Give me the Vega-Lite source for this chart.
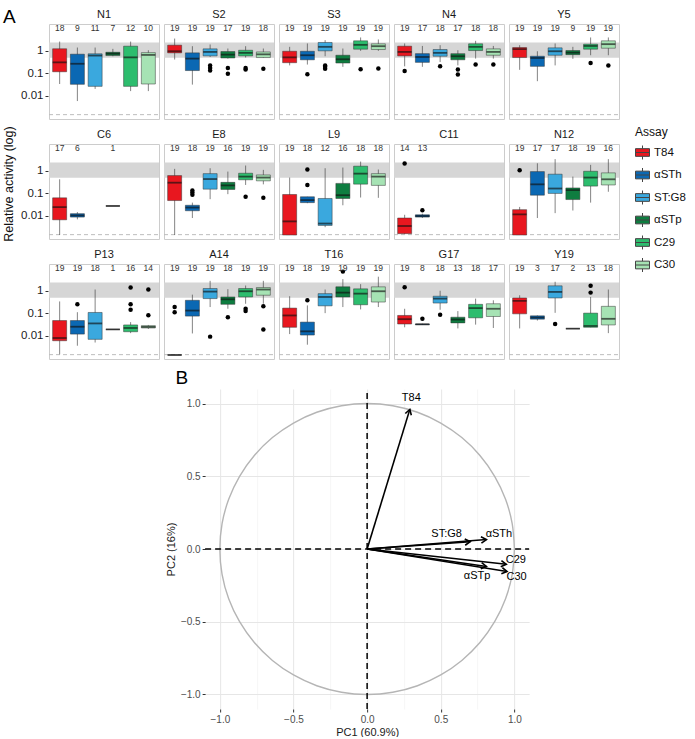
{
"$schema": "https://vega.github.io/schema/vega-lite/v6.json",
"padding": {"left": 3, "top": 7, "right": 0, "bottom": 0},
"config": {"font": "Liberation Sans", "view": {"stroke": "#cccccc"}},
"title": {"text": "A", "anchor": "start", "fontSize": 19, "fontWeight": "normal", "color": "#000", "offset": -18},
"datasets": {
"box": [
{"p":"N1","a":"T84","n":18,"lo":0.033,"q1":0.115,"md":0.30,"q3":1.2,"hi":2.5},
{"p":"N1","a":"αSTh","n":9,"lo":0.0058,"q1":0.032,"md":0.26,"q3":0.69,"hi":1.36},
{"p":"N1","a":"ST:G8","n":11,"lo":0.02,"q1":0.026,"md":0.6,"q3":0.72,"hi":1.36},
{"p":"N1","a":"αSTp","n":7,"lo":0.56,"q1":0.6,"md":0.73,"q3":0.84,"hi":1.19},
{"p":"N1","a":"C29","n":12,"lo":0.016,"q1":0.026,"md":0.5,"q3":1.56,"hi":2.5},
{"p":"N1","a":"C30","n":10,"lo":0.016,"q1":0.033,"md":0.64,"q3":0.81,"hi":1.03},
{"p":"S2","a":"T84","n":19,"lo":0.40,"q1":0.79,"md":0.93,"q3":1.73,"hi":3.4},
{"p":"S2","a":"αSTh","n":19,"lo":0.031,"q1":0.13,"md":0.44,"q3":0.79,"hi":1.56},
{"p":"S2","a":"ST:G8","n":19,"lo":0.52,"q1":0.58,"md":0.87,"q3":1.19,"hi":1.86},
{"p":"S2","a":"αSTp","n":17,"lo":0.44,"q1":0.47,"md":0.66,"q3":0.9,"hi":1.23},
{"p":"S2","a":"C29","n":19,"lo":0.49,"q1":0.58,"md":0.79,"q3":1.03,"hi":1.56},
{"p":"S2","a":"C30","n":18,"lo":0.48,"q1":0.49,"md":0.68,"q3":0.87,"hi":1.23},
{"p":"S3","a":"T84","n":19,"lo":0.22,"q1":0.29,"md":0.50,"q3":0.93,"hi":1.46},
{"p":"S3","a":"αSTh","n":19,"lo":0.24,"q1":0.39,"md":0.62,"q3":0.93,"hi":2.06},
{"p":"S3","a":"ST:G8","n":19,"lo":0.56,"q1":0.97,"md":1.46,"q3":2.28,"hi":2.9},
{"p":"S3","a":"αSTp","n":19,"lo":0.19,"q1":0.28,"md":0.41,"q3":0.62,"hi":1.23},
{"p":"S3","a":"C29","n":19,"lo":0.97,"q1":1.15,"md":1.79,"q3":2.7,"hi":3.8},
{"p":"S3","a":"C30","n":19,"lo":0.97,"q1":1.11,"md":1.56,"q3":1.99,"hi":3.1},
{"p":"N4","a":"T84","n":19,"lo":0.2,"q1":0.58,"md":0.87,"q3":1.56,"hi":2.06},
{"p":"N4","a":"αSTh","n":17,"lo":0.19,"q1":0.30,"md":0.52,"q3":0.73,"hi":1.6},
{"p":"N4","a":"ST:G8","n":18,"lo":0.31,"q1":0.56,"md":0.79,"q3":1.11,"hi":1.73},
{"p":"N4","a":"αSTp","n":17,"lo":0.22,"q1":0.39,"md":0.56,"q3":0.73,"hi":1.03},
{"p":"N4","a":"C29","n":18,"lo":0.44,"q1":1.0,"md":1.46,"q3":1.99,"hi":2.7},
{"p":"N4","a":"C30","n":18,"lo":0.44,"q1":0.62,"md":0.87,"q3":1.19,"hi":1.6},
{"p":"Y5","a":"T84","n":19,"lo":0.14,"q1":0.49,"md":1.15,"q3":1.36,"hi":1.73},
{"p":"Y5","a":"αSTh","n":19,"lo":0.044,"q1":0.2,"md":0.47,"q3":0.56,"hi":0.93},
{"p":"Y5","a":"ST:G8","n":19,"lo":0.22,"q1":0.62,"md":0.93,"q3":1.32,"hi":2.06},
{"p":"Y5","a":"αSTp","n":9,"lo":0.43,"q1":0.66,"md":0.81,"q3":1.0,"hi":1.46},
{"p":"Y5","a":"C29","n":19,"lo":0.62,"q1":1.15,"md":1.6,"q3":1.92,"hi":3.8},
{"p":"Y5","a":"C30","n":19,"lo":0.62,"q1":1.27,"md":1.92,"q3":2.7,"hi":3.8},
{"p":"C6","a":"T84","n":17,"lo":0.0014,"q1":0.0066,"md":0.024,"q3":0.062,"hi":0.41},
{"p":"C6","a":"αSTh","n":6,"lo":0.0069,"q1":0.0087,"md":0.0103,"q3":0.0123,"hi":0.0145},
{"p":"C6","a":"αSTp","n":1,"lo":0.027,"q1":0.027,"md":0.027,"q3":0.027,"hi":0.027},
{"p":"E8","a":"T84","n":19,"lo":0.0014,"q1":0.047,"md":0.29,"q3":0.60,"hi":1.19},
{"p":"E8","a":"αSTh","n":18,"lo":0.0079,"q1":0.0166,"md":0.023,"q3":0.029,"hi":0.038},
{"p":"E8","a":"ST:G8","n":19,"lo":0.054,"q1":0.15,"md":0.42,"q3":0.73,"hi":1.27},
{"p":"E8","a":"αSTp","n":16,"lo":0.09,"q1":0.146,"md":0.22,"q3":0.30,"hi":0.9},
{"p":"E8","a":"C29","n":19,"lo":0.23,"q1":0.39,"md":0.54,"q3":0.76,"hi":1.67},
{"p":"E8","a":"C30","n":19,"lo":0.245,"q1":0.35,"md":0.49,"q3":0.64,"hi":1.07},
{"p":"L9","a":"T84","n":19,"lo":0.0014,"q1":0.0014,"md":0.0056,"q3":0.087,"hi":0.49},
{"p":"L9","a":"αSTh","n":18,"lo":0.036,"q1":0.038,"md":0.049,"q3":0.069,"hi":0.069},
{"p":"L9","a":"ST:G8","n":12,"lo":0.0031,"q1":0.0037,"md":0.0045,"q3":0.058,"hi":1.27},
{"p":"L9","a":"αSTp","n":16,"lo":0.029,"q1":0.058,"md":0.081,"q3":0.27,"hi":1.36},
{"p":"L9","a":"C29","n":18,"lo":0.064,"q1":0.25,"md":0.73,"q3":1.56,"hi":2.5},
{"p":"L9","a":"C30","n":18,"lo":0.062,"q1":0.22,"md":0.54,"q3":0.73,"hi":1.11},
{"p":"C11","a":"T84","n":14,"lo":0.00155,"q1":0.0016,"md":0.0035,"q3":0.0079,"hi":0.011},
{"p":"C11","a":"αSTh","n":13,"lo":0.0079,"q1":0.0087,"md":0.0097,"q3":0.011,"hi":0.0123},
{"p":"N12","a":"T84","n":19,"lo":0.0014,"q1":0.0014,"md":0.0115,"q3":0.0186,"hi":0.0245},
{"p":"N12","a":"αSTh","n":17,"lo":0.0079,"q1":0.081,"md":0.245,"q3":0.9,"hi":2.1},
{"p":"N12","a":"ST:G8","n":17,"lo":0.013,"q1":0.097,"md":0.16,"q3":0.69,"hi":3.2},
{"p":"N12","a":"αSTp","n":18,"lo":0.017,"q1":0.052,"md":0.136,"q3":0.17,"hi":0.54},
{"p":"N12","a":"C29","n":19,"lo":0.038,"q1":0.205,"md":0.49,"q3":0.93,"hi":1.79},
{"p":"N12","a":"C30","n":16,"lo":0.115,"q1":0.23,"md":0.41,"q3":0.79,"hi":3.2},
{"p":"P13","a":"T84","n":19,"lo":0.0015,"q1":0.006,"md":0.0079,"q3":0.047,"hi":0.33},
{"p":"P13","a":"αSTh","n":19,"lo":0.0036,"q1":0.0118,"md":0.025,"q3":0.047,"hi":0.11},
{"p":"P13","a":"ST:G8","n":18,"lo":0.005,"q1":0.0069,"md":0.035,"q3":0.107,"hi":1.11},
{"p":"P13","a":"αSTp","n":1,"lo":0.019,"q1":0.019,"md":0.019,"q3":0.019,"hi":0.019},
{"p":"P13","a":"C29","n":16,"lo":0.013,"q1":0.015,"md":0.022,"q3":0.030,"hi":0.04},
{"p":"P13","a":"C30","n":14,"lo":0.02,"q1":0.022,"md":0.0245,"q3":0.028,"hi":0.03},
{"p":"A14","a":"T84","n":19,"lo":0.0014,"q1":0.0014,"md":0.0014,"q3":0.0014,"hi":0.0014},
{"p":"A14","a":"αSTh","n":19,"lo":0.0126,"q1":0.074,"md":0.13,"q3":0.37,"hi":0.66},
{"p":"A14","a":"ST:G8","n":19,"lo":0.186,"q1":0.44,"md":0.9,"q3":1.23,"hi":2.7},
{"p":"A14","a":"αSTp","n":18,"lo":0.156,"q1":0.245,"md":0.41,"q3":0.52,"hi":1.15},
{"p":"A14","a":"C29","n":19,"lo":0.26,"q1":0.52,"md":0.93,"q3":1.23,"hi":1.67},
{"p":"A14","a":"C30","n":19,"lo":0.26,"q1":0.62,"md":1.11,"q3":1.36,"hi":2.7},
{"p":"T16","a":"T84","n":19,"lo":0.0118,"q1":0.0236,"md":0.079,"q3":0.167,"hi":0.56},
{"p":"T16","a":"αSTh","n":18,"lo":0.004,"q1":0.0107,"md":0.0156,"q3":0.04,"hi":0.22},
{"p":"T16","a":"ST:G8","n":19,"lo":0.1,"q1":0.21,"md":0.52,"q3":0.73,"hi":1.11},
{"p":"T16","a":"αSTp","n":19,"lo":0.186,"q1":0.52,"md":0.81,"q3":1.46,"hi":3.2},
{"p":"T16","a":"C29","n":19,"lo":0.146,"q1":0.235,"md":0.73,"q3":1.19,"hi":1.92},
{"p":"T16","a":"C30","n":19,"lo":0.186,"q1":0.31,"md":0.93,"q3":1.46,"hi":4.1},
{"p":"G17","a":"T84","n":19,"lo":0.0236,"q1":0.033,"md":0.054,"q3":0.079,"hi":0.156},
{"p":"G17","a":"αSTh","n":8,"lo":0.03,"q1":0.031,"md":0.032,"q3":0.033,"hi":0.034},
{"p":"G17","a":"ST:G8","n":18,"lo":0.141,"q1":0.28,"md":0.44,"q3":0.56,"hi":0.98},
{"p":"G17","a":"αSTp","n":13,"lo":0.021,"q1":0.037,"md":0.052,"q3":0.066,"hi":0.123},
{"p":"G17","a":"C29","n":18,"lo":0.031,"q1":0.062,"md":0.167,"q3":0.245,"hi":0.44},
{"p":"G17","a":"C30","n":17,"lo":0.022,"q1":0.071,"md":0.156,"q3":0.26,"hi":0.37},
{"p":"Y19","a":"T84","n":19,"lo":0.021,"q1":0.093,"md":0.35,"q3":0.47,"hi":0.62},
{"p":"Y19","a":"αSTh","n":3,"lo":0.047,"q1":0.054,"md":0.064,"q3":0.076,"hi":0.079},
{"p":"Y19","a":"ST:G8","n":17,"lo":0.103,"q1":0.47,"md":0.87,"q3":1.62,"hi":2.45},
{"p":"Y19","a":"αSTp","n":2,"lo":0.0205,"q1":0.0205,"md":0.0205,"q3":0.0205,"hi":0.0205},
{"p":"Y19","a":"C29","n":13,"lo":0.0236,"q1":0.0236,"md":0.027,"q3":0.1,"hi":0.52},
{"p":"Y19","a":"C30","n":18,"lo":0.013,"q1":0.030,"md":0.056,"q3":0.2,"hi":1.11},
{"p":"S2","a":"ST:G8","o":0.22},{"p":"S2","a":"ST:G8","o":0.17},{"p":"S2","a":"ST:G8","o":0.13},
{"p":"S2","a":"αSTp","o":0.17},{"p":"S2","a":"αSTp","o":0.093},
{"p":"S2","a":"C29","o":0.17},{"p":"S2","a":"C29","o":0.146},
{"p":"S2","a":"C30","o":0.156},
{"p":"S3","a":"αSTh","o":0.09},
{"p":"S3","a":"ST:G8","o":0.22},{"p":"S3","a":"ST:G8","o":0.19},{"p":"S3","a":"ST:G8","o":0.156},
{"p":"S3","a":"C29","o":0.15},{"p":"S3","a":"C30","o":0.16},
{"p":"N4","a":"T84","o":0.123},{"p":"N4","a":"ST:G8","o":0.2},
{"p":"N4","a":"αSTp","o":0.146},{"p":"N4","a":"αSTp","o":0.087},
{"p":"N4","a":"C29","o":0.24},{"p":"N4","a":"C30","o":0.24},
{"p":"Y5","a":"C29","o":0.28},{"p":"Y5","a":"C30","o":0.22},
{"p":"E8","a":"αSTh","o":0.13},{"p":"E8","a":"αSTh","o":0.107},{"p":"E8","a":"αSTh","o":0.085},
{"p":"E8","a":"C29","o":0.069},{"p":"E8","a":"C30","o":0.062},
{"p":"L9","a":"αSTh","o":1.11},{"p":"L9","a":"αSTh","o":0.23},
{"p":"C11","a":"T84","o":2.06},{"p":"C11","a":"αSTh","o":0.0174},
{"p":"N12","a":"T84","o":1.03},
{"p":"P13","a":"αSTh","o":0.245},
{"p":"P13","a":"C29","o":1.36},{"p":"P13","a":"C29","o":0.245},{"p":"P13","a":"C29","o":0.141},
{"p":"P13","a":"C30","o":1.11},{"p":"P13","a":"C30","o":0.081},
{"p":"A14","a":"T84","o":0.186},{"p":"A14","a":"T84","o":0.11},
{"p":"A14","a":"ST:G8","o":0.0091},{"p":"A14","a":"αSTp","o":0.066},
{"p":"A14","a":"C29","o":0.156},{"p":"A14","a":"C29","o":0.123},
{"p":"A14","a":"C30","o":0.2},{"p":"A14","a":"C30","o":0.019},
{"p":"T16","a":"αSTh","o":0.37},{"p":"T16","a":"αSTp","o":6.9},
{"p":"G17","a":"T84","o":1.41},{"p":"G17","a":"αSTh","o":0.056},{"p":"G17","a":"ST:G8","o":0.085},
{"p":"Y19","a":"ST:G8","o":0.033},{"p":"Y19","a":"C29","o":1.62},{"p":"Y19","a":"C29","o":0.81}
],
"arrows": [
{"v":"T84","px":0.29,"py":0.96,"lx":0.30,"ly":1.035},
{"v":"ST:G8","px":0.70,"py":0.05,"lx":0.54,"ly":0.105},
{"v":"αSTh","px":0.81,"py":0.065,"lx":0.895,"ly":0.105},
{"v":"C29","px":0.945,"py":-0.105,"lx":1.01,"ly":-0.075},
{"v":"C30","px":0.95,"py":-0.155,"lx":1.015,"ly":-0.195},
{"v":"αSTp","px":0.81,"py":-0.12,"lx":0.747,"ly":-0.186}
],
"circle": [
{"t":0,"cx":1,"cy":0},{"t":10,"cx":0.985,"cy":0.174},{"t":20,"cx":0.94,"cy":0.342},{"t":30,"cx":0.866,"cy":0.5},
{"t":40,"cx":0.766,"cy":0.643},{"t":50,"cx":0.643,"cy":0.766},{"t":60,"cx":0.5,"cy":0.866},{"t":70,"cx":0.342,"cy":0.94},
{"t":80,"cx":0.174,"cy":0.985},{"t":90,"cx":0,"cy":1},{"t":100,"cx":-0.174,"cy":0.985},{"t":110,"cx":-0.342,"cy":0.94},
{"t":120,"cx":-0.5,"cy":0.866},{"t":130,"cx":-0.643,"cy":0.766},{"t":140,"cx":-0.766,"cy":0.643},{"t":150,"cx":-0.866,"cy":0.5},
{"t":160,"cx":-0.94,"cy":0.342},{"t":170,"cx":-0.985,"cy":0.174},{"t":180,"cx":-1,"cy":0},{"t":190,"cx":-0.985,"cy":-0.174},
{"t":200,"cx":-0.94,"cy":-0.342},{"t":210,"cx":-0.866,"cy":-0.5},{"t":220,"cx":-0.766,"cy":-0.643},{"t":230,"cx":-0.643,"cy":-0.766},
{"t":240,"cx":-0.5,"cy":-0.866},{"t":250,"cx":-0.342,"cy":-0.94},{"t":260,"cx":-0.174,"cy":-0.985},{"t":270,"cx":0,"cy":-1},
{"t":280,"cx":0.174,"cy":-0.985},{"t":290,"cx":0.342,"cy":-0.94},{"t":300,"cx":0.5,"cy":-0.866},{"t":310,"cx":0.643,"cy":-0.766},
{"t":320,"cx":0.766,"cy":-0.643},{"t":330,"cx":0.866,"cy":-0.5},{"t":340,"cx":0.94,"cy":-0.342},{"t":350,"cx":0.985,"cy":-0.174},
{"t":360,"cx":1,"cy":0}
]
},
"center": true,
"spacing": 9,
"resolve": {"scale": {"color": "independent"}, "legend": {"color": "independent"}},
"vconcat": [
{
"data": {"name": "box"},
"title": {"text": "Relative activity (log)", "orient": "left", "anchor": "middle", "fontSize": 12.5, "fontWeight": "normal", "color": "#111", "offset": 5},
"columns": 5,
"spacing": {"row": 8, "column": 3},
"facet": {"field": "p", "type": "nominal", "title": null,
  "sort": ["N1","S2","S3","N4","Y5","C6","E8","L9","C11","N12","P13","A14","T16","G17","Y19"],
  "header": {"labelFontSize": 11, "labelColor": "#1a1a1a", "labelPadding": 4}},
"spec": {
"width": 110, "height": 95,
"resolve": {"scale": {"x": "independent"}},
"layer": [
{"transform": [{"filter": "datum.a == 'T84' && isValid(datum.n)"}],
 "mark": {"type": "rect", "color": "#d6d6d6"},
 "encoding": {
   "x": {"datum": 0, "type": "quantitative", "axis": null, "scale": {"domain": [0, 1], "nice": false, "zero": false}},
   "x2": {"datum": 1},
   "y": {"datum": 0.48, "type": "quantitative",
         "scale": {"type": "log", "domain": [0.00093, 15], "nice": false},
         "axis": {"values": [0.01, 0.1, 1], "format": "~g", "title": null, "domain": false, "grid": false,
                  "tickSize": 3, "tickColor": "#333", "labelFontSize": 11.5, "labelColor": "#222", "labelPadding": 2}},
   "y2": {"datum": 2.3}}},
{"transform": [{"filter": "datum.a == 'T84' && isValid(datum.n)"}],
 "mark": {"type": "rule", "color": "#bdbdbd", "strokeDash": [4, 3], "strokeWidth": 1},
 "encoding": {
   "x": {"datum": 0, "type": "quantitative", "axis": null, "scale": {"domain": [0, 1], "nice": false, "zero": false}},
   "x2": {"datum": 1},
   "y": {"datum": 0.00145, "type": "quantitative"}}},
{"transform": [{"filter": "isValid(datum.n)"}],
 "mark": {"type": "rule", "color": "#333", "opacity": 0.6, "strokeWidth": 1},
 "encoding": {
   "x": {"field": "a", "type": "nominal", "axis": null,
        "scale": {"type": "band", "domain": ["T84","αSTh","ST:G8","αSTp","C29","C30"], "paddingInner": 0.21, "paddingOuter": 0.205}},
   "y": {"field": "lo", "type": "quantitative"}, "y2": {"field": "hi"}}},
{"transform": [{"filter": "isValid(datum.n)"}],
 "mark": {"type": "bar", "stroke": "#333", "strokeOpacity": 0.55, "strokeWidth": 0.9, "opacity": 1},
 "encoding": {
   "x": {"field": "a", "type": "nominal", "axis": null,
        "scale": {"type": "band", "domain": ["T84","αSTh","ST:G8","αSTp","C29","C30"], "paddingInner": 0.21, "paddingOuter": 0.205}},
   "y": {"field": "q1", "type": "quantitative"}, "y2": {"field": "q3"},
   "color": {"field": "a", "type": "nominal",
     "scale": {"domain": ["T84","αSTh","ST:G8","αSTp","C29","C30"],
               "range": ["#e8171f","#0b68b3","#3aa8de","#0e7d40","#2dbd6e","#a6e3b4"]},
     "legend": {"title": "Assay", "orient": "none", "legendX": 586, "legendY": 103,
       "titleFontSize": 12, "titleFontWeight": "normal", "titleColor": "#111", "titlePadding": 6,
       "labelFontSize": 11.5, "labelColor": "#111",
       "symbolType": "M-1,-0.55H1V0.55H-1Z M-1,0H1 M0,-0.55V-1 M0,0.55V1",
       "symbolSize": 196, "symbolStrokeColor": "#444", "symbolStrokeWidth": 1, "symbolOpacity": 1, "rowPadding": 3.5}}}},
{"transform": [{"filter": "isValid(datum.n)"}],
 "mark": {"type": "tick", "color": "#111", "opacity": 0.65, "thickness": 1.8, "size": 14},
 "encoding": {
   "x": {"field": "a", "type": "nominal", "axis": null,
        "scale": {"type": "band", "domain": ["T84","αSTh","ST:G8","αSTp","C29","C30"], "paddingInner": 0.21, "paddingOuter": 0.205}},
   "y": {"field": "md", "type": "quantitative"}}},
{"transform": [{"filter": "isValid(datum.o)"}],
 "mark": {"type": "point", "filled": true, "color": "#000", "opacity": 1, "size": 20},
 "encoding": {
   "x": {"field": "a", "type": "nominal", "axis": null,
        "scale": {"type": "band", "domain": ["T84","αSTh","ST:G8","αSTp","C29","C30"], "paddingInner": 0.21, "paddingOuter": 0.205}},
   "y": {"field": "o", "type": "quantitative"}}},
{"transform": [{"filter": "isValid(datum.n)"}],
 "mark": {"type": "text", "fontSize": 8.5, "color": "#333"},
 "encoding": {
   "x": {"field": "a", "type": "nominal", "axis": null,
        "scale": {"type": "band", "domain": ["T84","αSTh","ST:G8","αSTp","C29","C30"], "paddingInner": 0.21, "paddingOuter": 0.205}},
   "y": {"datum": 9.5, "type": "quantitative"}, "text": {"field": "n", "type": "quantitative"}}}
]
}
},
{
"width": 324, "height": 320,
"view": {"stroke": null},
"title": {"text": "B", "anchor": "start", "fontSize": 19, "fontWeight": "normal", "color": "#000", "dx": 10, "offset": 0},
"layer": [
{"data": {"name": "circle"},
 "mark": {"type": "line", "color": "#b5b5b5", "strokeWidth": 1.4, "interpolate": "catmull-rom"},
 "encoding": {
   "x": {"field": "cx", "type": "quantitative",
     "scale": {"domain": [-1.1, 1.1], "nice": false, "zero": false},
     "axis": {"title": "PC1 (60.9%)", "values": [-1,-0.75,-0.5,-0.25,0,0.25,0.5,0.75,1],
       "labelExpr": "abs(datum.value*2 - round(datum.value*2)) < 0.01 ? format(datum.value, '.1f') : ''",
       "domain": false, "grid": true,
       "gridColor": {"condition": {"test": "abs(datum.value*2 - round(datum.value*2)) < 0.01", "value": "#e6e6e6"}, "value": "#f0f0f0"},
       "gridWidth": {"condition": {"test": "abs(datum.value*2 - round(datum.value*2)) < 0.01", "value": 1}, "value": 0.6},
       "tickOpacity": {"condition": {"test": "abs(datum.value*2 - round(datum.value*2)) < 0.01", "value": 1}, "value": 0},
       "tickSize": 3, "tickColor": "#333", "labelFontSize": 10, "labelColor": "#4d4d4d", "labelPadding": 2,
       "titleFontSize": 11, "titleFontWeight": "normal", "titleColor": "#1a1a1a", "titlePadding": 2}},
   "y": {"field": "cy", "type": "quantitative",
     "scale": {"domain": [-1.1, 1.1], "nice": false, "zero": false},
     "axis": {"title": "PC2 (16%)", "values": [-1,-0.75,-0.5,-0.25,0,0.25,0.5,0.75,1],
       "labelExpr": "abs(datum.value*2 - round(datum.value*2)) < 0.01 ? format(datum.value, '.1f') : ''",
       "domain": false, "grid": true,
       "gridColor": {"condition": {"test": "abs(datum.value*2 - round(datum.value*2)) < 0.01", "value": "#e6e6e6"}, "value": "#f0f0f0"},
       "gridWidth": {"condition": {"test": "abs(datum.value*2 - round(datum.value*2)) < 0.01", "value": 1}, "value": 0.6},
       "tickOpacity": {"condition": {"test": "abs(datum.value*2 - round(datum.value*2)) < 0.01", "value": 1}, "value": 0},
       "tickSize": 3, "tickColor": "#333", "labelFontSize": 10, "labelColor": "#4d4d4d", "labelPadding": 2,
       "titleFontSize": 11, "titleFontWeight": "normal", "titleColor": "#1a1a1a", "titlePadding": 4}},
   "order": {"field": "t", "type": "quantitative"}}},
{"data": {"name": "arrows"}, "transform": [{"filter": "datum.v == 'T84'"}],
 "mark": {"type": "rule", "color": "#000", "strokeDash": [6, 4], "strokeWidth": 1.5},
 "encoding": {"x": {"datum": 0, "type": "quantitative"}, "y": {"datum": -1.1, "type": "quantitative"}, "y2": {"datum": 1.1}}},
{"data": {"name": "arrows"}, "transform": [{"filter": "datum.v == 'T84'"}],
 "mark": {"type": "rule", "color": "#000", "strokeDash": [6, 4], "strokeWidth": 1.5},
 "encoding": {"y": {"datum": 0, "type": "quantitative"}, "x": {"datum": -1.1, "type": "quantitative"}, "x2": {"datum": 1.1}}},
{"data": {"name": "arrows"},
 "mark": {"type": "rule", "color": "#000", "strokeWidth": 1.6},
 "encoding": {"x": {"field": "px", "type": "quantitative"}, "y": {"field": "py", "type": "quantitative"},
   "x2": {"datum": 0}, "y2": {"datum": 0}}},
{"data": {"name": "arrows"},
 "transform": [{"calculate": "atan2(datum.px, datum.py) * 180 / PI", "as": "ang"}],
 "mark": {"type": "point", "shape": "M-0.6,1L0,0L0.6,1", "filled": false, "stroke": "#000", "strokeWidth": 1.6, "size": 110, "opacity": 1},
 "encoding": {"x": {"field": "px", "type": "quantitative"}, "y": {"field": "py", "type": "quantitative"},
   "angle": {"field": "ang", "type": "quantitative", "scale": null}}},
{"data": {"name": "arrows"},
 "mark": {"type": "text", "fontSize": 11, "color": "#000"},
 "encoding": {"x": {"field": "lx", "type": "quantitative"}, "y": {"field": "ly", "type": "quantitative"},
   "text": {"field": "v", "type": "nominal"}}}
]
}
]
}
